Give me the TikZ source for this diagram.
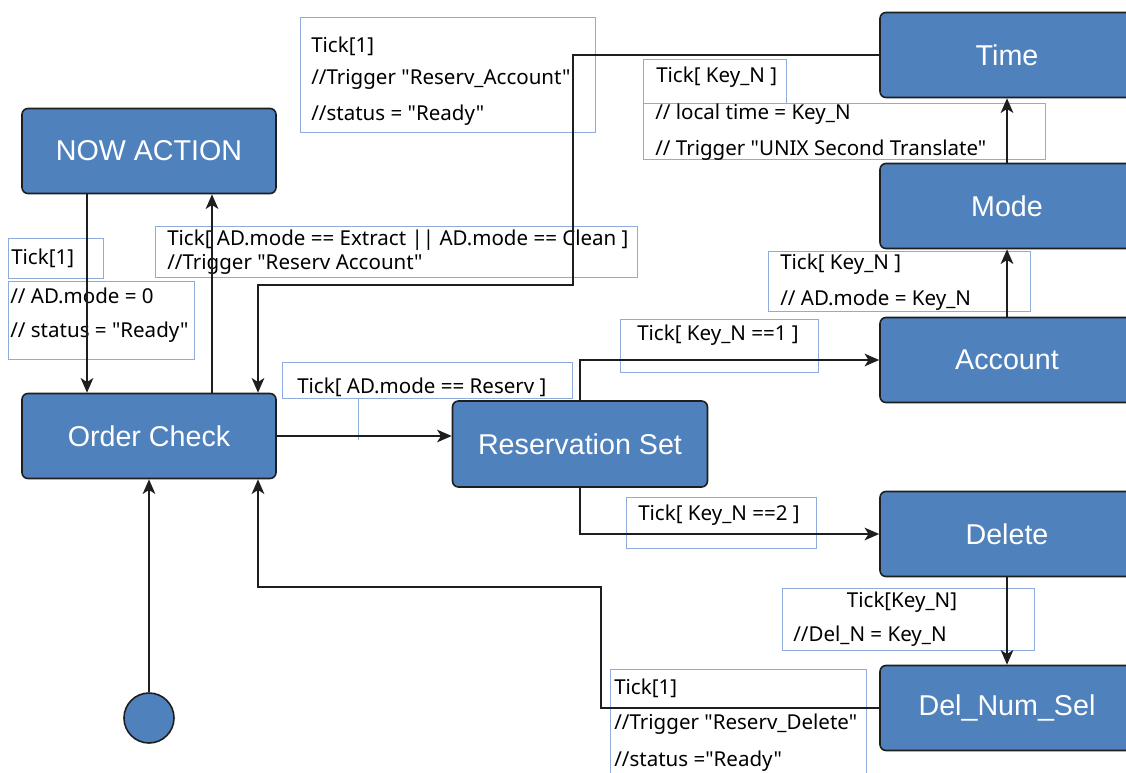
\documentclass[tikz,border=0pt]{standalone}
\usepackage{fontspec}
\setmainfont{Liberation Sans}
\newfontfamily\notefont{Noto Sans}
\usepackage{tikz}
\usetikzlibrary{arrows.meta}
\definecolor{stfill}{RGB}{79,129,189}
\definecolor{stline}{RGB}{30,30,30}
\definecolor{noteline}{RGB}{143,170,220}
\tikzset{
  stbox/.style={draw=stline, fill=stfill, line width=1.2pt, rounded corners=4.5pt,
    minimum width=190.5pt, minimum height=63.75pt, text=white,
    font=\fontsize{21.5}{24}\selectfont},
  notebox/.style={draw=noteline, line width=0.7pt},
  notetext/.style={anchor=west, inner sep=0pt, yshift=-1.5pt,
    font=\notefont\fontsize{15.4}{18}\selectfont},
  link/.style={draw=stline, line width=1.3pt, ->,
    >={Stealth[length=11pt,width=9.5pt,inset=3pt]}},
}

\begin{document}
\begin{tikzpicture}[x=0.75pt,y=-0.75pt]
        \useasboundingbox (0,0) rectangle (1126,773);
        % states
        \node[stbox] (now) at (149,151) {NOW ACTION};
        \node[stbox] (oc) at (149,436) {Order Check};
        \node[stbox, minimum width=191.25pt, minimum height=64.5pt] (rs) at (580,444) {Reservation Set};
        \node[stbox] (time) at (1007,55) {Time};
        \node[stbox] (mode) at (1007,206) {Mode};
        \node[stbox] (acct) at (1007,360) {Account};
        \node[stbox] (del) at (1007,534) {Delete};
        \node[stbox] (dns) at (1007,708) {Del\_Num\_Sel};
        \node[circle, draw=stline, fill=stfill, line width=1.2pt, minimum size=37.5pt] (start) at (149,718) {};

        % guard boxes
        \draw[notebox] (300,17) rectangle (595,132);
        \node[notetext] (g1a) at (311,44) {Tick[1]};
        \node[notetext] (g1b) at (311,77) {//Trigger "Reserv\_Account"};
        \node[notetext] (g1c) at (311,113) {//status = "Ready"};
        \draw[notebox] (643,59) rectangle (786,103);
        \node[notetext] (g2a) at (656,75) {Tick[ Key\_N ]};
        \draw[notebox] (643,103) rectangle (1045,159);
        \node[notetext] (g3a) at (655,112) {// local time = Key\_N};
        \node[notetext] (g3b) at (655,148) {// Trigger "UNIX Second Translate"};
        \draw[notebox] (8,238) rectangle (103,278);
        \node[notetext] (g4a) at (11,256) {Tick[1]};
        \draw[notebox] (8,281) rectangle (194,359);
        \node[notetext] (g5a) at (10,294) {// AD.mode = 0};
        \node[notetext] (g5b) at (10,330) {// status = "Ready"};
        \draw[notebox] (155,226) rectangle (637,277);
        \node[notetext] (g6a) at (167,238) {Tick[ AD.mode == Extract || AD.mode == Clean ]};
        \node[notetext] (g6b) at (167,262) {//Trigger "Reserv Account"};
        \draw[notebox] (768,251) rectangle (1030,311);
        \node[notetext] (g7a) at (780,262) {Tick[ Key\_N ]};
        \node[notetext] (g7b) at (780,298) {// AD.mode = Key\_N};
        \draw[notebox] (620,319) rectangle (818,372);
        \node[notetext] (g8a) at (637,333) {Tick[ Key\_N ==1 ]};
        \draw[notebox] (282,362) rectangle (572,398);
        \draw[notebox] (358,398) -- (358,440);
        \node[notetext] (g9a) at (297,385) {Tick[ AD.mode == Reserv ]};
        \draw[notebox] (626,497) rectangle (816,548);
        \node[notetext] (g10a) at (638,513) {Tick[ Key\_N ==2 ]};
        \draw[notebox] (782,588) rectangle (1034,650);
        \node[notetext, anchor=center] (g11a) at (902,600) {Tick[Key\_N]};
        \node[notetext] (g11b) at (793,634) {//Del\_N = Key\_N};
        \draw[notebox] (610,669) rectangle (866,790);
        \node[notetext] (g12a) at (614,686) {Tick[1]};
        \node[notetext] (g12b) at (614,722) {//Trigger "Reserv\_Delete"};
        \node[notetext] (g12c) at (614,759) {//status ="Ready"};

        % transitions
        \draw[link] ([xshift=-46.5pt]now.south) -- ([xshift=-46.5pt]oc.north);
        \draw[link] ([xshift=47.25pt]oc.north) -- ([xshift=47.25pt]now.south);
        \draw[link] (time.west) -| (573,285) -| ([xshift=81.75pt]oc.north);
        \draw[link] (oc.east) -- (oc.east -| rs.west);
        \draw[link] (rs.north) |- (acct.west);
        \draw[link] (rs.south) |- (del.west);
        \draw[link] (acct.north) -- (mode.south);
        \draw[link] (mode.north) -- (time.south);
        \draw[link] (del.south) -- (dns.north);
        \draw[link] (dns.west) -| (601,587) -| ([xshift=81.75pt]oc.south);
        \draw[link] (start.north) -- (oc.south);
\end{tikzpicture}
\end{document}
